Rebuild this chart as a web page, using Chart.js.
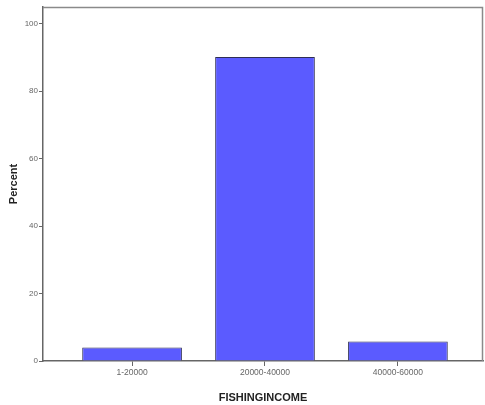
<!DOCTYPE html>
<html lang="en">
<head>
    <meta charset="UTF-8">
    <title>FISHINGINCOME</title>
    <script src="https://cdn.jsdelivr.net/npm/chart.js"></script>
    <style>
        body { margin: 0; background: #fff; }
        #wrap { width: 485px; height: 405px; }
    </style>
</head>
<body>
    <div id="wrap"><canvas id="chart" width="485" height="405"></canvas></div>

    <script>
        const categories = ['1-20000', '20000-40000', '40000-60000'];
        const percents = [4.0, 90.2, 5.8];
        const yTicks = [0, 20, 40, 60, 80, 100];

        // frame round the plot area (SPSS style box)
        const framePlugin = {
            id: 'frame',
            afterDraw(chart) {
                const { ctx, chartArea: a } = chart;
                ctx.save();
                ctx.strokeStyle = '#8a8a8a';
                ctx.lineWidth = 1.5;
                ctx.beginPath();
                ctx.moveTo(a.left, a.top + 0.5);
                ctx.lineTo(a.right - 0.5, a.top + 0.5);
                ctx.lineTo(a.right - 0.5, a.bottom);
                ctx.stroke();
                ctx.restore();
            }
        };

        new Chart(document.getElementById('chart'), {
            type: 'bar',
            data: {
                datasets: [{
                    data: percents.map((v, i) => ({ x: i, y: v })),
                    backgroundColor: '#5b5bff',
                    borderColor: '#2e2e55',
                    borderWidth: 1,
                    barPercentage: 0.75,
                    categoryPercentage: 1
                }]
            },
            plugins: [framePlugin],
            options: {
                responsive: false,
                animation: false,
                layout: { padding: { top: 7, right: 2, left: 0, bottom: 0 } },
                plugins: { legend: { display: false }, tooltip: { enabled: false } },
                scales: {
                    x: {
                        type: 'linear',
                        offset: false,
                        min: -0.67,
                        max: 2.64,
                        afterFit(scale) { scale.height = 44; },
                        afterBuildTicks(scale) {
                            scale.ticks = categories.map((c, i) => ({ value: i }));
                        },
                        grid: { offset: false, drawOnChartArea: false, tickLength: 5, color: '#666', lineWidth: 1 },
                        border: { color: '#666', width: 1.5 },
                        ticks: {
                            callback: (v) => categories[v],
                            color: '#666',
                            font: { family: 'Liberation Sans', size: 8.5 },
                            padding: 2,
                            maxRotation: 0
                        },
                        title: {
                            display: true,
                            text: 'FISHINGINCOME',
                            color: '#222',
                            font: { family: 'Liberation Sans', size: 11, weight: 'bold' },
                            padding: { top: 8, bottom: 0 }
                        }
                    },
                    y: {
                        min: 0,
                        max: 105,
                        afterFit(scale) { scale.width = 43; },
                        afterBuildTicks(scale) {
                            scale.ticks = yTicks.map(v => ({ value: v }));
                        },
                        grid: { drawOnChartArea: false, tickLength: 4, color: '#666', lineWidth: 1 },
                        border: { color: '#666', width: 1.5 },
                        ticks: {
                            color: '#666',
                            font: { family: 'Liberation Sans', size: 8 },
                            padding: 1
                        },
                        title: {
                            display: true,
                            text: 'Percent',
                            color: '#222',
                            font: { family: 'Liberation Sans', size: 11, weight: 'bold' },
                            padding: { top: 7, bottom: 0 }
                        }
                    }
                }
            }
        });
    </script>
</body>
</html>
